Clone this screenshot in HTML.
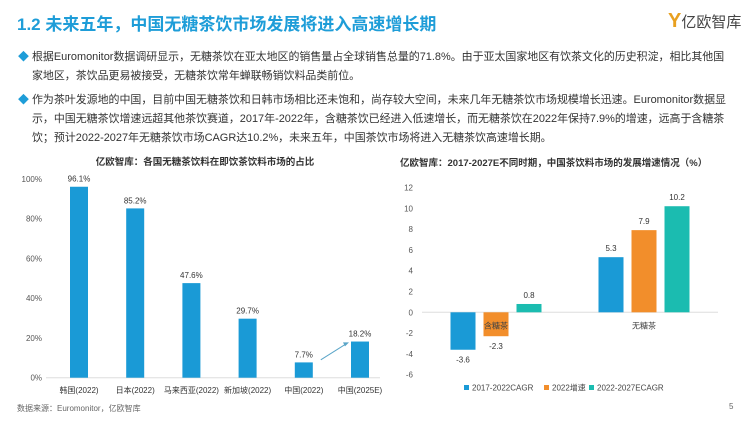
<!DOCTYPE html>
<html><head><meta charset="utf-8"><style>
body{margin:0;width:750px;height:422px;background:#fff;font-family:"Liberation Sans","Noto Sans CJK SC",sans-serif;position:relative;overflow:hidden;color:#333}
.abs{position:absolute}
.title{left:17px;top:10px;font-size:17px;font-weight:bold;color:#1e9dd8;white-space:nowrap}
.p{left:20px;font-size:10.95px;line-height:19px;width:720px;color:#333;white-space:nowrap}
.p .d{color:#1e9dd8;position:absolute;left:-2px}
.p span.t{display:block;padding-left:12px}
svg text{font-family:"Liberation Sans","Noto Sans CJK SC",sans-serif}
</style></head><body>
<div class="abs title">1.2 未来五年，中国无糖茶饮市场发展将进入高速增长期</div>
<div class="abs" style="left:668px;top:10px;font-size:15px;color:#444;white-space:nowrap"><span style="color:#e8a020;font-weight:bold;font-size:20px">Y</span>亿欧智库</div>
<div class="abs p" style="top:48px"><span class="d">◆</span><span class="t">根据Euromonitor数据调研显示，无糖茶饮在亚太地区的销售量占全球销售总量的71.8%。由于亚太国家地区有饮茶文化的历史积淀，相比其他国<br>家地区，茶饮品更易被接受，无糖茶饮常年蝉联畅销饮料品类前位。</span></div>
<div class="abs p" style="top:91px"><span class="d">◆</span><span class="t">作为茶叶发源地的中国，目前中国无糖茶饮和日韩市场相比还未饱和，尚存较大空间，未来几年无糖茶饮市场规模增长迅速。Euromonitor数据显<br>示，中国无糖茶饮增速远超其他茶饮赛道，2017年-2022年，含糖茶饮已经进入低速增长，而无糖茶饮在2022年保持7.9%的增速，远高于含糖茶<br>饮；预计2022-2027年无糖茶饮市场CAGR达10.2%，未来五年，中国茶饮市场将进入无糖茶饮高速增长期。</span></div>
<div class="abs" style="left:17px;top:403px;font-size:8px;color:#666">数据来源：Euromonitor，亿欧智库</div>
<div class="abs" style="left:729px;top:402px;font-size:8px;color:#666">5</div>
<svg class="abs" style="left:0;top:0" width="750" height="422" id="charts"></svg>
<script>
const leftCats=["韩国(2022)","日本(2022)","马来西亚(2022)","新加坡(2022)","中国(2022)","中国(2025E)"];
const leftVals=[96.1,85.2,47.6,29.7,7.7,18.2];
const leftLabels=["96.1%","85.2%","47.6%","29.7%","7.7%","18.2%"];
const leftTicks=[0,20,40,60,80,100];
const rightCats=["含糖茶","无糖茶"];
const seriesNames=["2017-2022CAGR","2022增速","2022-2027ECAGR"];
const seriesA=[-3.6,5.3];
const seriesB=[-2.3,7.9];
const seriesC=[0.8,10.2];
const rightTicks=[-6,-4,-2,0,2,4,6,8,10,12];
const colors=["#1a9ad6","#f28e2b","#1bbcb0"];
const svg=document.getElementById('charts');
const NS="http://www.w3.org/2000/svg";
function mk(tag,attrs,txt){const e=document.createElementNS(NS,tag);for(const k in attrs)e.setAttribute(k,attrs[k]);if(txt!==undefined)e.textContent=txt;svg.appendChild(e);return e;}
const ly=v=>377.7-v*1.987;
const lx=i=>79+i*56.2;
let t=mk('text',{x:205,y:165,'font-size':9.5,'font-weight':'bold','text-anchor':'middle',fill:'#333'},'亿欧智库：各国无糖茶饮料在即饮茶饮料市场的占比');

leftTicks.forEach(v=>{const e=mk('text',{x:42,y:ly(v)+3,'font-size':8,'text-anchor':'end',fill:'#555'},v+'%');
});
let ax=mk('line',{x1:46,x2:380,y1:ly(0),y2:ly(0),stroke:'#ddd','stroke-width':1});

leftVals.forEach((v,i)=>{
const r=mk('rect',{x:lx(i)-9,y:ly(v),width:18,height:ly(0)-ly(v),fill:'#1a9ad6'});

const l=mk('text',{x:lx(i),y:ly(v)-5,'font-size':8,'text-anchor':'middle',fill:'#333'},leftLabels[i]);

const c=mk('text',{x:lx(i),y:393,'font-size':8,'text-anchor':'middle',fill:'#333'},leftCats[i]);
});
let ar=mk('path',{d:`M${lx(4)+17} ${ly(9)} L${lx(5)-14} ${ly(17)}`,stroke:'#5aa5c8','stroke-width':1,fill:'none'});

let ah=mk('path',{d:`M${lx(5)-11} ${ly(17.8)} l-6 0 l2 4 z`,fill:'#5aa5c8'});

const ry=v=>312.3-v*10.4;
const gx=[496,644];const off=[-33,0,33];const series=[seriesA,seriesB,seriesC];
t=mk('text',{x:400,y:166,'font-size':9.5,'font-weight':'bold',fill:'#333'},'亿欧智库：2017-2027E不同时期，中国茶饮料市场的发展增速情况（%）');

rightTicks.forEach(v=>{const e=mk('text',{x:413,y:ry(v)+3,'font-size':8,'text-anchor':'end',fill:'#555'},v);
});
ax=mk('line',{x1:422,x2:718,y1:ry(0),y2:ry(0),stroke:'#ddd','stroke-width':1});

series.forEach((s,j)=>s.forEach((v,i)=>{
const x=gx[i]+off[j];const y0=Math.min(ry(v),ry(0));const h=Math.abs(ry(v)-ry(0));
const r=mk('rect',{x:x-12.5,y:y0,width:25,height:h,fill:colors[j]});

const l=mk('text',{x:x,y:v>=0?ry(v)-6:ry(v)+13,'font-size':8,'text-anchor':'middle',fill:'#333'},v.toFixed(1));
}));
rightCats.forEach((c,i)=>{const e=mk('text',{x:gx[i],y:ry(0)+16,'font-size':8,'text-anchor':'middle',fill:'#444'},c);
});
const lgx=[464,544,589];
seriesNames.forEach((n,j)=>{
const r=mk('rect',{x:lgx[j],y:385,width:5,height:5,fill:colors[j]});

const e=mk('text',{x:lgx[j]+8,y:390.5,'font-size':8,fill:'#444'},n);
});
</script>
</body></html>
